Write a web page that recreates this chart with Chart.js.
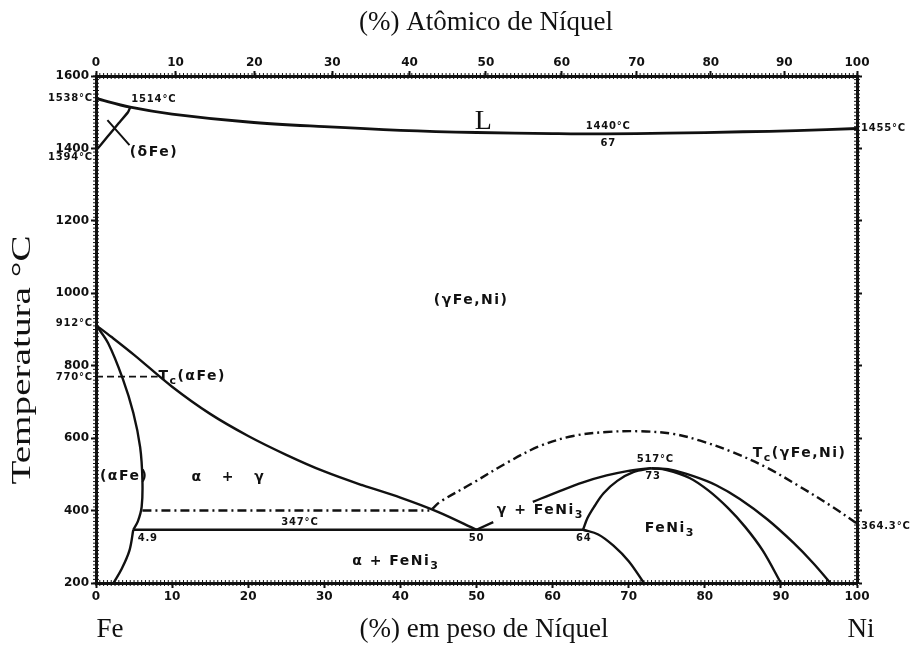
<!DOCTYPE html>
<html>
<head>
<meta charset="utf-8">
<script src="https://cdn.jsdelivr.net/npm/chart.js@4.4.1/dist/chart.umd.min.js"></script>
<style>
  html, body { margin: 0; padding: 0; background: #fff; }
  canvas { display: block; }
</style>
</head>
<body>
<canvas id="diagram" width="924" height="646"></canvas>
<script>
// ---- Axes -------------------------------------------------------------
const weightTicks = [0, 10, 20, 30, 40, 50, 60, 70, 80, 90, 100];   // wt% Ni (bottom)
const atomicTicks = [0, 10, 20, 30, 40, 50, 60, 70, 80, 90, 100];   // at% Ni (top)
const tempTicks = [200, 400, 600, 800, 1000, 1200, 1400, 1600];     // °C

// ---- Phase boundaries, as [wt% Ni, °C] ---------------------------------
const liquidus = [[0, 1538], [4.5, 1514], [10, 1495], [20, 1473], [30, 1460], [40, 1450],
                  [50, 1444], [60, 1441], [67, 1440], [75, 1442], [85, 1446], [92, 1449], [100, 1455]];
const deltaBoundary = [[0, 1394], [1.5, 1432], [3, 1470], [4.2, 1500], [4.5, 1514]];
const deltaLeader = [[1.5, 1478], [4.4, 1409]];
const alphaSolvus = [[0, 912], [1.6, 862], [3.5, 765], [4.9, 670], [5.8, 575], [6.1, 484],
                     [6.0, 410], [5.5, 370], [4.9, 347]];
const alphaLow = [[4.9, 347], [4.4, 290], [3.4, 240], [2.3, 200]];
const gammaAlpha = [[0, 912], [2, 880], [5, 830], [10, 742], [15, 667], [20, 606], [25, 554],
                    [30, 508], [35, 470], [40, 436], [45, 396], [50, 347]];
const eutectoid = [[4.9, 347], [64, 347]];
const curieAlpha = [[0, 770], [8.1, 770]];
const magnetic400 = [[6.1, 400], [43.8, 400]];
const curieGamma = [[44.2, 405], [45.2, 424], [49.5, 476], [54, 532], [58.3, 578], [62.7, 606],
                    [67.1, 617], [71.5, 619], [75.8, 612], [79.4, 593], [83.7, 561],
                    [88.2, 518], [92.5, 466], [96.8, 410], [100, 364.3]];
const gammaFeNi3Stub = [[50, 347], [52.2, 368]];
const gammaFeNi3Left = [[57.4, 424], [60.6, 451], [64, 478], [67.1, 497], [69.8, 509], [71.9, 515], [73, 517]];
const feNi3Left = [[64, 347], [64.6, 380], [65.5, 412], [66.7, 448], [68.5, 482], [70.6, 506], [73, 517]];
const feNi3LeftLow = [[64, 347], [66, 334], [68, 303], [70, 260], [72, 200]];
const feNi3Right = [[73, 517], [75, 512], [78, 490], [80.5, 455], [83, 408], [85.3, 355], [87.6, 290], [90, 200]];
const gammaFeNi3Right = [[73, 517], [75.5, 513], [78.5, 495], [81.5, 470], [84.6, 432], [88.2, 376],
                         [91.6, 312], [94.2, 256], [96.5, 200]];

// ---- Labels inside the plot ([wt% Ni, °C] anchor) -----------------------
const regionLabels = [
  { text: '(γFe,Ni)', x: 49.3, y: 981, align: 'center' },
  { text: '(δFe)', x: 7.6, y: 1390, align: 'center' },
  { text: '(αFe)', x: 3.7, y: 495, align: 'center' },
  { text: 'α   +   γ', x: 17.4, y: 493, align: 'center' },
  { text: 'α + FeNi_3', x: 39.4, y: 261, align: 'center' },
  { text: 'γ + FeNi_3', x: 58.4, y: 401, align: 'center' },
  { text: 'FeNi_3', x: 75.4, y: 352, align: 'center' },
  { text: 'T_c(αFe)', x: 8.2, y: 770, align: 'left' },
  { text: 'T_c(γFe,Ni)', x: 86.3, y: 559, align: 'left' }
];
const pointLabels = [
  { text: '1514°C', x: 7.6, y: 1536, align: 'center' },
  { text: '1440°C', x: 67.3, y: 1462, align: 'center' },
  { text: '67', x: 67.3, y: 1415, align: 'center' },
  { text: '347°C', x: 26.8, y: 368, align: 'center' },
  { text: '4.9', x: 6.8, y: 324, align: 'center' },
  { text: '50', x: 50, y: 324, align: 'center' },
  { text: '64', x: 64.1, y: 324, align: 'center' },
  { text: '517°C', x: 73.5, y: 541, align: 'center' },
  { text: '73', x: 73.2, y: 493, align: 'center' }
];
// Temperatures written outside the frame, next to the axes
const edgeLabels = [
  { text: '1538°C', side: 'left', y: 1538, dy: 0 },
  { text: '1394°C', side: 'left', y: 1394, dy: 7 },
  { text: '912°C', side: 'left', y: 912, dy: -2 },
  { text: '770°C', side: 'left', y: 770, dy: 1 },
  { text: '1455°C', side: 'right', y: 1455, dy: 0 },
  { text: '364.3°C', side: 'right', y: 364.3, dy: 3 }
];

// weight fraction of Ni for a given atomic fraction (Fe 55.845, Ni 58.693)
const wtFromAt = a => 100 * a * 58.693 / (a * 58.693 + (100 - a) * 55.845);

const toPoints = arr => arr.map(([x, y]) => ({ x, y }));

function line(data, opts = {}) {
  return Object.assign({
    data: toPoints(data),
    showLine: true,
    borderColor: '#111',
    borderWidth: 2.4,
    pointRadius: 0,
    tension: 0.35,
    fill: false
  }, opts);
}

const DASH_DOT = [9, 4, 2, 4];
const REGION_STYLE = { size: 14, spacing: 1.5 };
const POINT_STYLE = { size: 10, spacing: 0.8 };

// Text with "_x" subscripts
function drawRich(ctx, text, x, y, align, style) {
  const { size, spacing } = style;
  const segs = [];
  for (let i = 0; i < text.length; i++) {
    if (text[i] === '_') { segs.push({ t: text[i + 1], sub: true }); i++; }
    else if (segs.length && !segs[segs.length - 1].sub) segs[segs.length - 1].t += text[i];
    else segs.push({ t: text[i], sub: false });
  }
  const fontFor = s => `bold ${s.sub ? Math.round(size * 0.8) : size}px "DejaVu Sans"`;
  ctx.letterSpacing = spacing + 'px';
  let total = 0;
  segs.forEach(s => { ctx.font = fontFor(s); s.w = ctx.measureText(s.t).width; total += s.w; });
  let cx = align === 'center' ? x - total / 2 : align === 'right' ? x - total : x;
  ctx.textAlign = 'left';
  ctx.textBaseline = 'middle';
  segs.forEach(s => {
    ctx.font = fontFor(s);
    ctx.fillText(s.t, cx, s.sub ? y + size * 0.35 : y);
    cx += s.w;
  });
  ctx.letterSpacing = '0px';
}

const decorations = {
  id: 'decorations',
  beforeDraw(chart) {
    const { ctx } = chart;
    ctx.save();
    ctx.fillStyle = '#fff';
    ctx.fillRect(0, 0, chart.width, chart.height);
    ctx.restore();
  },
  afterDraw(chart) {
    const { ctx, chartArea: a, scales } = chart;
    const xs = scales.x, ys = scales.y;
    ctx.save();
    ctx.fillStyle = '#111';
    ctx.strokeStyle = '#111';

    // fine ticks along the frame
    ctx.lineWidth = 1;
    ctx.beginPath();
    for (let v = 0; v <= 100; v += 0.5) {
      const px = xs.getPixelForValue(v);
      ctx.moveTo(px, a.bottom - 3); ctx.lineTo(px, a.bottom + 3);
      ctx.moveTo(px, a.top - 3); ctx.lineTo(px, a.top + 3);
    }
    for (let t = 200; t <= 1600; t += 10) {
      const py = ys.getPixelForValue(t);
      ctx.moveTo(a.left - 3, py); ctx.lineTo(a.left + 3, py);
      ctx.moveTo(a.right - 3, py); ctx.lineTo(a.right + 3, py);
    }
    ctx.stroke();

    regionLabels.forEach(l => drawRich(ctx, l.text, xs.getPixelForValue(l.x), ys.getPixelForValue(l.y), l.align, REGION_STYLE));
    pointLabels.forEach(l => drawRich(ctx, l.text, xs.getPixelForValue(l.x), ys.getPixelForValue(l.y), l.align, POINT_STYLE));
    edgeLabels.forEach(l => {
      const py = ys.getPixelForValue(l.y) + l.dy;
      if (l.side === 'left') drawRich(ctx, l.text, a.left - 3, py, 'right', POINT_STYLE);
      else drawRich(ctx, l.text, a.right + 4, py, 'left', POINT_STYLE);
    });

    // liquid field
    ctx.font = '28px "Liberation Serif"';
    ctx.textAlign = 'center';
    ctx.textBaseline = 'middle';
    ctx.fillText('L', xs.getPixelForValue(50.9), ys.getPixelForValue(1475));

    // axis titles
    ctx.font = '27px "Liberation Serif"';
    ctx.fillText('(%) Atômico de Níquel', 486, 23);
    ctx.fillText('(%) em peso de Níquel', 484, 630);
    ctx.fillText('Fe', 110, 630);
    ctx.fillText('Ni', 861, 630);
    // vertical title, set in a tall stretched face
    ctx.save();
    ctx.translate(23, 360);
    ctx.rotate(-Math.PI / 2);
    ctx.scale(1.4, 1);
    ctx.font = '28px "Liberation Serif"';
    ctx.fillText('Temperatura °C', 0, 0);
    ctx.restore();
    ctx.restore();
  }
};

const tickFont = { family: 'DejaVu Sans', size: 12, weight: 'bold' };
const gridOpts = { drawOnChartArea: false, drawTicks: true, tickLength: 5, tickWidth: 2, color: '#111' };
const borderOpts = { display: true, width: 3, color: '#111' };

new Chart(document.getElementById('diagram'), {
  type: 'scatter',
  data: {
    datasets: [
      line(liquidus, { borderWidth: 2.8 }),
      line(deltaBoundary, { tension: 0.1 }),
      line(deltaLeader, { borderWidth: 2 }),
      line(alphaSolvus),
      line(alphaLow),
      line(gammaAlpha),
      line(eutectoid, { tension: 0 }),
      line(curieAlpha, { borderDash: [7, 4], borderWidth: 1.8, tension: 0 }),
      line(magnetic400, { borderDash: DASH_DOT, borderWidth: 2.4, tension: 0 }),
      line(curieGamma, { borderDash: DASH_DOT, borderWidth: 2.4 }),
      line(gammaFeNi3Stub, { tension: 0 }),
      line(gammaFeNi3Left),
      line(feNi3Left),
      line(feNi3LeftLow),
      line(feNi3Right),
      line(gammaFeNi3Right)
    ]
  },
  options: {
    responsive: false,
    devicePixelRatio: 1,
    animation: false,
    layout: { padding: 0 },
    plugins: { legend: { display: false }, tooltip: { enabled: false }, title: { display: false } },
    scales: {
      x: {
        type: 'linear', position: 'bottom', min: 0, max: 100,
        afterBuildTicks: s => { s.ticks = weightTicks.map(v => ({ value: v })); },
        ticks: { color: '#111', font: tickFont, padding: 2, maxRotation: 0, autoSkip: false,
                 callback: (v, i) => String(weightTicks[i]) },
        grid: gridOpts, border: borderOpts,
        afterFit: s => { s.height = 63; }
      },
      xTop: {
        type: 'linear', position: 'top', min: 0, max: 100,
        afterBuildTicks: s => { s.ticks = atomicTicks.map(a => ({ value: wtFromAt(a) })); },
        ticks: { color: '#111', font: tickFont, padding: 1, maxRotation: 0, autoSkip: false,
                 callback: (v, i) => String(atomicTicks[i]) },
        grid: gridOpts, border: borderOpts,
        afterFit: s => { s.height = 76; }
      },
      y: {
        type: 'linear', position: 'left', min: 200, max: 1600,
        afterBuildTicks: s => { s.ticks = tempTicks.map(v => ({ value: v })); },
        ticks: { color: '#111', font: tickFont, padding: 2, autoSkip: false,
                 callback: (v, i) => String(tempTicks[i]) },
        grid: gridOpts, border: borderOpts,
        afterFit: s => { s.width = 96; }
      },
      yRight: {
        type: 'linear', position: 'right', min: 200, max: 1600,
        afterBuildTicks: s => { s.ticks = tempTicks.map(v => ({ value: v })); },
        ticks: { display: false },
        grid: gridOpts, border: borderOpts,
        afterFit: s => { s.width = 67; }
      }
    }
  },
  plugins: [decorations]
});
</script>
</body>
</html>
